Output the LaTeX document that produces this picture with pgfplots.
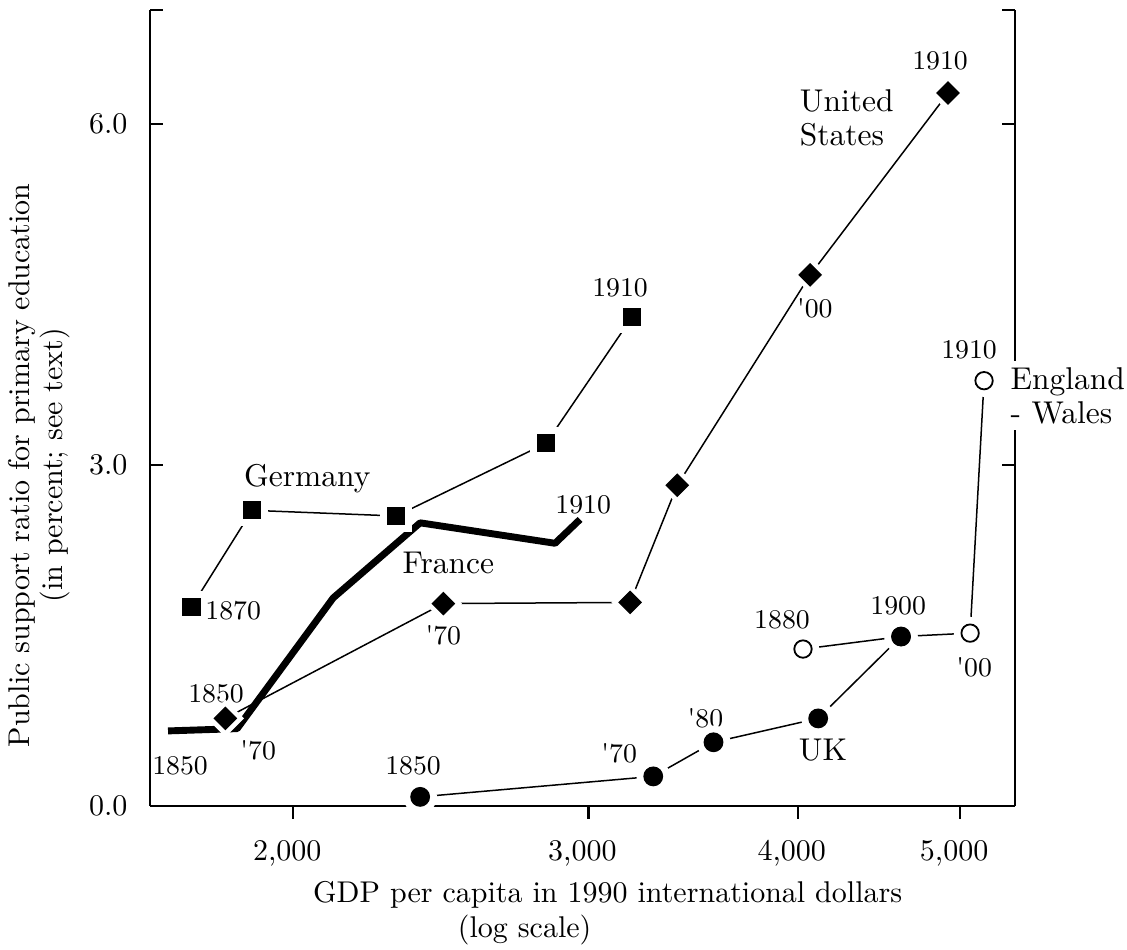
\documentclass[border=0pt]{standalone}
\usepackage{pgfplots}
\usepackage{pgfplotstable}
\pgfplotsset{compat=1.18}
\pgfplotstableread{
x y
1739 1.75
1890 2.60
2304 2.55
2831 3.19
3186 4.30
}\germany
\pgfplotstableread{
x y
1684 0.66
1852 0.68
2113 1.83
2381 2.49
2866 2.31
2966 2.52
}\france
\pgfplotstableread{
x y
1822 0.77
2458 1.78
3177 1.79
3390 2.82
4069 4.67
4918 6.27
}\us
\pgfplotstableread{
x y
2381 0.08
3280 0.26
3563 0.56
4114 0.77
4610 1.49
}\uk
\pgfplotstableread{
x y
4029 1.38
4610 1.49
5069 1.52
5167 3.74
}\england
\begin{document}
\begin{tikzpicture}
\begin{axis}[
  scale only axis, width=288.33pt, height=265.33pt,
  xmode=log, xmin=1643, xmax=5392, ymin=0, ymax=7,
  axis x line=bottom, axis y line=box,
  axis line style={-, line width=0.8pt},
  xtick={2000,3000,4000,5000},
  xticklabels={{2,000},{3,000},{4,000},{5,000}},
  ytick={0,3,6,7}, yticklabels={0.0,3.0,6.0,{}},
  tick align=inside, major tick length=4.3pt,
  tick style={line width=0.8pt, black},
  xtick style={yshift=-4.3pt},
  xticklabel style={yshift=-8pt, xshift=-2pt},
  yticklabel style={xshift=-4pt},
  clip=false,
]
\coordinate (sw) at (rel axis cs:0,0);
\coordinate (ne) at (rel axis cs:1,1);
% lines
\addplot[black, line width=0.5pt, mark=none] table {\germany};
\addplot[black, line width=0.5pt, mark=none] table {\us};
\addplot[black, line width=0.5pt, mark=none] table {\uk};
\addplot[black, line width=0.5pt, mark=none] table {\england};
\addplot[black, line width=2.3pt, line join=round, mark=none] table {\france};
% halos
\addplot[only marks, mark=square*, mark size=5.1pt, white] table {\germany};
\addplot[only marks, mark=square*, mark size=4.2pt, mark options={rotate=45}, white] table {\us};
\addplot[only marks, mark=*, mark size=5.4pt, white] table {\uk};
\addplot[only marks, mark=*, mark size=5.2pt, white] table {\england};
% marks
\addplot[only marks, mark=square*, mark size=2.83pt, black] table {\germany};
\addplot[only marks, mark=square*, mark size=2.6pt, mark options={rotate=45}, black] table {\us};
\addplot[only marks, mark=*, mark size=2.9pt, mark options={fill=white, draw=black, line width=0.6pt}] table {\england};
\addplot[only marks, mark=*, mark size=3.1pt, black] table {\uk};
% year labels
\begin{scope}[every node/.style={font=\fontsize{9}{10}\selectfont, inner sep=0pt}]
\node at (1842,1.72) {1870};
\node at (3134,4.56) {1910};
\node at (2979,2.65) {1910};
\node at (1712,0.35) {1850};
\node at (1906,0.49) {\textquotesingle70};
\node at (1799,0.985) {1850};
\node at (2458,1.50) {\textquotesingle70};
\node at (4864,6.55) {1910};
\node at (4095,4.38) {\textquotesingle00};
\node at (2358,0.35) {1850};
\node at (3130,0.46) {\textquotesingle70};
\node at (3524,0.77) {\textquotesingle80};
\node at (3915,1.64) {1880};
\node at (4592,1.76) {1900};
\node at (5097,1.22) {\textquotesingle00};
\node at (5062,4.01) {1910};
\end{scope}
% country labels
\begin{scope}[every node/.style={font=\fontsize{10.5}{11.3}\selectfont}]
\node[inner sep=0pt] at (2039,2.88) {Germany};
\node[inner sep=0pt] at (2475,2.14) {France};
\node[inner sep=0pt] at (4141,0.49) {UK};
\node[anchor=west, align=left, inner sep=2pt] at (3976,6.05) {United\\States};
\node[anchor=west, align=left, inner sep=2pt, fill=white] at (5311,3.61) {England\\- Wales};
\end{scope}
% axis titles
\node[rotate=90] at ([xshift=-42.7pt]rel axis cs:0,0.428) {Public support ratio for primary education};
\node[rotate=90] at ([xshift=-31.7pt]rel axis cs:0,0.428) {(in percent; see text)};
\node at ([yshift=-29.7pt]rel axis cs:0.529,0) {GDP per capita in 1990 international dollars};
\node at ([yshift=-41.2pt]rel axis cs:0.433,0) {(log scale)};
\end{axis}
\pgfresetboundingbox
\path[use as bounding box] ([shift={(-50pt,-48pt)}]sw) rectangle ([shift={(37.33pt,3.33pt)}]ne);
\end{tikzpicture}
\end{document}
